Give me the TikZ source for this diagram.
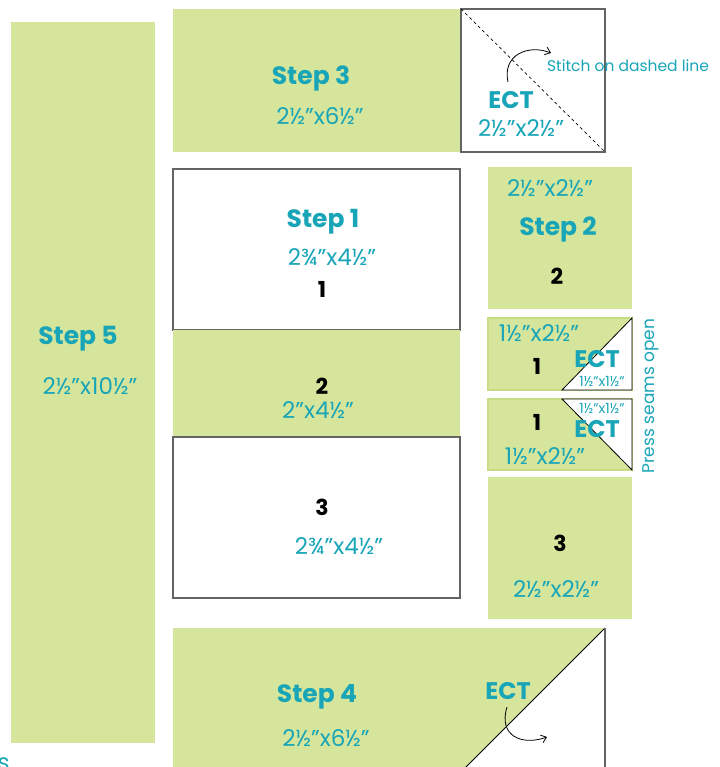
\documentclass[tikz,border=0pt]{standalone}
\usepackage{fontspec}
\setmainfont{Poppins}
\usetikzlibrary{arrows.meta}
\definecolor{quiltgreen}{RGB}{213,229,155}
\definecolor{quiltrim}{RGB}{200,220,134}
\definecolor{quiltteal}{RGB}{24,165,184}
\definecolor{seamgray}{RGB}{100,100,100}

\begin{document}
\begin{tikzpicture}[x=1pt,y=-1pt,
    patch/.style={fill=quiltgreen,anchor=north west,inner sep=0pt,outer sep=0pt},
    blank/.style={fill=white,draw=seamgray,line width=1.2pt,anchor=north west,inner sep=0pt,outer sep=0pt},
    steplbl/.style={text=quiltteal,font=\fontsize{25}{25}\selectfont\bfseries},
    ectlbl/.style={text=quiltteal,font=\fontsize{24}{24}\selectfont\bfseries},
    dimlbl/.style={text=quiltteal,font=\fontsize{23}{23}\selectfont},
    tinylbl/.style={text=quiltteal,font=\fontsize{14}{14}\selectfont},
    numlbl/.style={font=\fontsize{22}{22}\selectfont\bfseries},
    flip/.style={-{Straight Barb[length=5pt,width=8pt]},line width=0.8pt}]
  \useasboundingbox (0,0) rectangle (719,767);

  % long strip on the left
  \node[patch,minimum width=144,minimum height=721] (strip5) at (11,22) {};
  \node[steplbl] (s5) at (78,339) {Step 5};
  \node[dimlbl] (d5) at (90,386) {2½"x10½"};

  % top row
  \node[patch,minimum width=288,minimum height=143] (strip3) at (173,9) {};
  \node[blank,minimum width=144,minimum height=143] (ect3) at (461,9) {};
  \draw[dashed,line width=0.7pt] (ect3.north west) -- (ect3.south east);
  \node[steplbl] (s3) at (311,78) {Step 3};
  \node[dimlbl] (d3) at (320,116) {2½"x6½"};
  \node[ectlbl] (e3) at (511,100) {ECT};
  \node[dimlbl] (de3) at (521,128) {2½"x2½"};
  \node[tinylbl,font=\fontsize{15.5}{15.5}\selectfont] (stitch) at (628,66) {Stitch on dashed line};
  \coordinate (a3) at (508,82);
  \coordinate (b3) at (551,53);
  \draw[flip] (a3) .. controls (502,55) and (528,44) .. (b3);

  % centre column
  \node[blank,minimum width=287,minimum height=161] (blk1) at (173,169) {};
  \node[steplbl] (s1) at (323,222) {Step 1};
  \node[dimlbl] (d1) at (332,257) {2¾"x4½"};
  \node[numlbl] (n1) at (322,289) {1};

  \node[patch,minimum width=287,minimum height=107] (blk2) at (173,330) {};
  \node[numlbl] (n2) at (322,386) {2};
  \node[dimlbl] (d2) at (318,410) {2"x4½"};

  \node[blank,minimum width=287,minimum height=161] (blk3) at (173,437) {};
  \node[numlbl] (n3) at (322,507) {3};
  \node[dimlbl] (d3b) at (339,546) {2¾"x4½"};

  % right column
  \node[patch,minimum width=144,minimum height=142] (sq2) at (488,167) {};
  \node[dimlbl] (dq2) at (550,188) {2½"x2½"};
  \node[steplbl] (s2) at (558,229) {Step 2};
  \node[numlbl] (nq2) at (557,276) {2};

  \node[patch,draw=quiltrim,line width=2pt,minimum width=144,minimum height=72] (upr) at (488,318) {};
  \fill[white] (562,390) -- (632,318) -- (632,390) -- cycle;
  \draw[line width=0.8pt] (562,390) -- (632,318) -- (632,390) -- cycle;
  \node[dimlbl] (du) at (539,333) {1½"x2½"};
  \node[numlbl] (nu) at (537,366) {1};
  \node[ectlbl] (eu) at (597,359) {ECT};
  \node[tinylbl] (tu) at (602,381) {1½"x1½"};

  \node[patch,draw=quiltrim,line width=2pt,minimum width=144,minimum height=71] (lwr) at (488,399) {};
  \fill[white] (562,399) -- (632,399) -- (632,470) -- cycle;
  \draw[line width=0.8pt] (562,399) -- (632,399) -- (632,470) -- cycle;
  \node[tinylbl] (tl) at (602,408) {1½"x1½"};
  \node[numlbl] (nl) at (537,422) {1};
  \node[ectlbl] (el) at (597,429) {ECT};
  \node[dimlbl] (dl) at (545,456) {1½"x2½"};

  \node[text=quiltteal,rotate=90,font=\fontsize{17}{17}\selectfont] (press) at (651,396) {Press seams open};

  \node[patch,minimum width=144,minimum height=142] (sq3) at (488,477) {};
  \node[numlbl] (nq3) at (560,543) {3};
  \node[dimlbl] (dq3) at (556,589) {2½"x2½"};

  % bottom row
  \node[patch,minimum width=432,minimum height=140] (strip4) at (173,628) {};
  \fill[white] (605,628) -- (605,768) -- (465,768) -- cycle;
  \draw[line width=0.8pt] (605,628) -- (465,768);
  \draw[seamgray,line width=1.2pt] (605,628) -- (605,768);
  \node[steplbl] (s4) at (317,697) {Step 4};
  \node[dimlbl] (d4) at (326,738) {2½"x6½"};
  \node[ectlbl] (e4) at (508,691) {ECT};
  \coordinate (a4) at (507,707);
  \coordinate (b4) at (547,737);
  \draw[flip] (a4) .. controls (498,736) and (522,746) .. (b4);

  \node[dimlbl,anchor=west] (cut) at (-6,764) {s};
\end{tikzpicture}
\end{document}
